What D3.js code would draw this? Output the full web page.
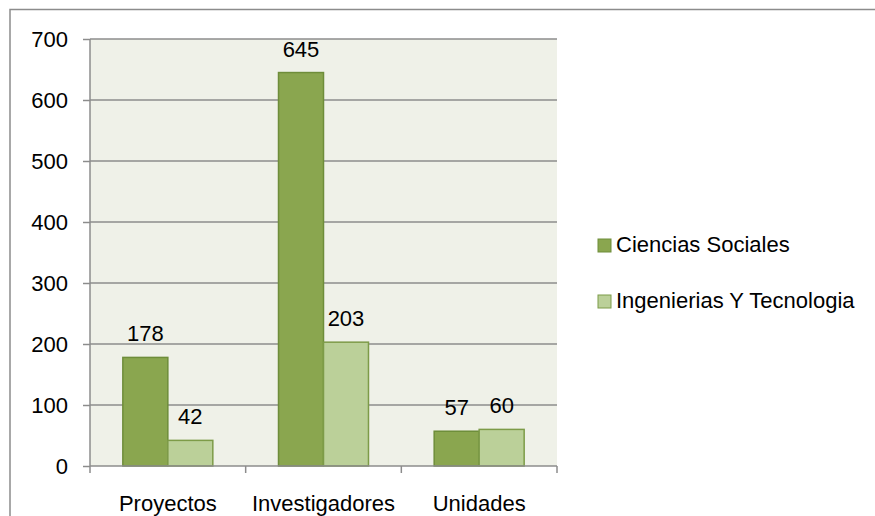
<!DOCTYPE html>
<html>
<head>
<meta charset="utf-8">
<script src="https://cdn.jsdelivr.net/npm/d3@7"></script>
<style>
body { margin: 0; background: #fff; }
svg text { font-family: "Liberation Sans", Arial, sans-serif; fill: #000; }
</style>
</head>
<body>
<div id="chart"></div>
<script>
let width = 875,
	height = 516;

// data
let categories = ["Proyectos", "Investigadores", "Unidades"];
let seriesNames = ["Ciencias Sociales", "Ingenierias Y Tecnologia"];
let ciencias = [178, 645, 57];
let ingenierias = [42, 203, 60];
let yTicks = [0, 100, 200, 300, 400, 500, 600, 700];

let fills = ["#8aa64f", "#bbd099"],
	strokes = ["#6e8d3a", "#7d9b48"];

let plot = {left: 90, right: 557, top: 39, bottom: 466};

let svg = d3.select('#chart').append('svg')
	.attr('width', width)
	.attr('height', height)

// chart frame
svg.append('rect')
	.attr('x', 10).attr('y', 9.5)
	.attr('width', width).attr('height', height)
	.attr('fill', 'none')
	.attr('stroke', '#8c8c8c')
	.attr('stroke-width', 1.5)

let x = d3.scaleBand()
	.domain(categories)
	.range([plot.left, plot.right])
	.paddingInner(0)
	.paddingOuter(0);

let x1 = d3.scaleBand()
	.domain(seriesNames)
	.range([0, x.bandwidth()])
	.paddingInner(0)
	.paddingOuter(0.73);

let y = d3.scaleLinear()
	.domain([0, 700])
	.range([plot.bottom, plot.top]);

// plot background
svg.append('rect')
	.attr('x', plot.left).attr('y', plot.top)
	.attr('width', plot.right - plot.left)
	.attr('height', plot.bottom - plot.top)
	.attr('fill', '#eff1e8')

// gridlines
svg.append('g').selectAll('line')
	.data(yTicks.filter(function (d) { return d > 0; }))
	.enter().append('line')
	.attr('x1', plot.left).attr('x2', plot.right)
	.attr('y1', function (d) { return y(d) })
	.attr('y2', function (d) { return y(d) })
	.attr('stroke', '#8c8c8c')
	.attr('stroke-width', 1.5)

// bars
let rows = categories.map(function (c, i) {
	return {cat: c, values: [ciencias[i], ingenierias[i]]};
});

let groups = svg.selectAll('.grp')
	.data(rows)
	.enter().append('g').classed('grp', true)
	.attr('transform', function (d) { return 'translate(' + x(d.cat) + ',0)' })

groups.selectAll('rect')
	.data(function (d) {
		return d.values.map(function (v, j) { return {name: seriesNames[j], value: v, j: j}; });
	})
	.enter().append('rect')
	.attr('x', function (d) { return x1(d.name) })
	.attr('y', function (d) { return y(d.value) })
	.attr('width', x1.bandwidth())
	.attr('height', function (d) { return y(0) - y(d.value) })
	.attr('fill', function (d) { return fills[d.j] })
	.attr('stroke', function (d) { return strokes[d.j] })
	.attr('stroke-width', 1.5)

groups.selectAll('.lbl')
	.data(function (d) {
		return d.values.map(function (v, j) { return {name: seriesNames[j], value: v}; });
	})
	.enter().append('text').classed('lbl', true)
	.attr('x', function (d) { return x1(d.name) + x1.bandwidth() / 2 })
	.attr('y', function (d) { return y(d.value) - 16 })
	.attr('text-anchor', 'middle')
	.style('font-size', '22px')
	.text(function (d) { return d.value })

// axes
let yAxis = d3.axisLeft(y).tickValues(yTicks).tickSize(7).tickPadding(15);
let gy = svg.append('g')
	.attr('transform', 'translate(' + plot.left + ',0)')
	.call(yAxis);

let xAxis = d3.axisBottom(x).tickSize(0).tickPadding(29);
let gx = svg.append('g')
	.attr('transform', 'translate(0,' + plot.bottom + ')')
	.call(xAxis);

// boundary ticks between categories
gx.selectAll('.edge')
	.data(d3.range(categories.length + 1))
	.enter().append('line').classed('edge', true)
	.attr('x1', function (i) { return plot.left + i * x.step() })
	.attr('x2', function (i) { return plot.left + i * x.step() })
	.attr('y1', 0).attr('y2', 7)

svg.selectAll('.domain')
	.attr('stroke', '#8c8c8c')
	.attr('stroke-width', 1.5)
gy.select('.domain').attr('d', 'M0,' + plot.top + 'V' + plot.bottom)
gx.select('.domain').attr('d', 'M' + plot.left + ',0H' + plot.right)
svg.selectAll('.tick line, .edge')
	.attr('stroke', '#8c8c8c')
	.attr('stroke-width', 1.5)
svg.selectAll('.tick text')
	.style('font-size', '22px')
	.style('font-family', '"Liberation Sans", Arial, sans-serif')
	.attr('fill', '#000')

// legend
let legend = svg.append('g')
	.attr('transform', 'translate(598,239)')

let items = legend.selectAll('g')
	.data(seriesNames)
	.enter().append('g')
	.attr('transform', function (d, i) { return 'translate(0,' + (i * 56) + ')' })

items.append('rect')
	.attr('width', 13).attr('height', 13)
	.attr('fill', function (d, i) { return fills[i] })
	.attr('stroke', function (d, i) { return strokes[i] })
	.attr('stroke-width', 1)

items.append('text')
	.attr('x', 18).attr('y', 13)
	.style('font-size', '22px')
	.text(function (d) { return d })
</script>
</body>
</html>
